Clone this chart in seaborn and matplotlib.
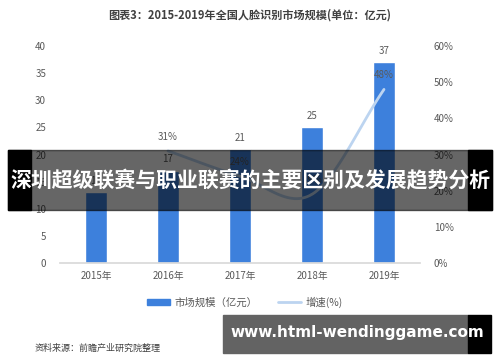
import numpy as np
import pandas as pd
import matplotlib
matplotlib.use('Agg')
import matplotlib.pyplot as plt
import seaborn as sns
from matplotlib.patches import Rectangle
from matplotlib.lines import Line2D
from matplotlib.patches import Patch

# データ
years = ['2015年', '2016年', '2017年', '2018年', '2019年']
market_size = [13, 17, 21, 25, 37]
growth = [None, 31, 24, 19, 48]
growth_labels = ['', '31%', '24%', '19%', '48%']

title = '图表3：2015-2019年全国人脸识别市场规模(单位：亿元)'
source = '资料来源：前瞻产业研究院整理'
banner = '深圳超级联赛与职业联赛的主要区别及发展趋势分析'
url = 'www.html-wendinggame.com'

sns.set_theme(style='white')
plt.rcParams['font.family'] = ['Noto Sans CJK SC', 'DejaVu Sans']

bar_color = '#3D80DC'
line_color = '#BCD4F0'
text_color = '#595959'

fig = plt.figure(figsize=(5, 3.62), dpi=100)
ax = fig.add_axes([0.12, 0.2735, 0.72, 0.5994])

df = pd.DataFrame({'year': years, 'size': market_size})
sns.barplot(data=df, x='year', y='size', color=bar_color, width=0.3,
            saturation=1, ax=ax)
ax.set_ylim(0, 40)
ax.set_xlim(-0.5, 4.5)
ax.set_yticks(range(0, 45, 5))
ax.set_xlabel('')
ax.set_ylabel('')
for s in ['top', 'right', 'left']:
    ax.spines[s].set_visible(False)
ax.spines['bottom'].set_color('#D9D9D9')
ax.tick_params(axis='both', length=0, labelsize=7, colors=text_color)
ax.tick_params(axis='y', pad=10)
ax.tick_params(axis='x', pad=6)
for i, v in enumerate(market_size):
    ax.text(i, v + 1.2, str(v), ha='center', va='bottom', fontsize=7, color=text_color)

# 増速（右軸、平滑曲線）
ax2 = ax.twinx()
ax2.set_ylim(0, 0.6)
ax2.set_yticks(np.arange(0, 0.61, 0.1))
ax2.set_yticklabels([f'{int(round(t * 100))}%' for t in np.arange(0, 0.61, 0.1)])
ax2.tick_params(axis='y', length=0, labelsize=7, colors=text_color, pad=10)
for s in ax2.spines.values():
    s.set_visible(False)
ax2.grid(False)

gx = np.array([i for i, g in enumerate(growth) if g is not None], dtype=float)
gy = np.array([g / 100 for g in growth if g is not None])
# Catmull-Rom で滑らかに
px = np.concatenate([[2 * gx[0] - gx[1]], gx, [2 * gx[-1] - gx[-2]]])
py = np.concatenate([[2 * gy[0] - gy[1]], gy, [2 * gy[-1] - gy[-2]]])
cx, cy = [], []
for k in range(1, len(px) - 2):
    t = np.linspace(0, 1, 30)
    for arr, out in ((px, cx), (py, cy)):
        p0, p1, p2, p3 = arr[k - 1], arr[k], arr[k + 1], arr[k + 2]
        out.extend(0.5 * ((2 * p1) + (-p0 + p2) * t + (2 * p0 - 5 * p1 + 4 * p2 - p3) * t ** 2
                          + (-p0 + 3 * p1 - 3 * p2 + p3) * t ** 3))
ax2.plot(cx, cy, color=line_color, lw=2, solid_capstyle='round')
for i, g in enumerate(growth):
    if g is not None:
        ax2.text(i, g / 100 + 0.025, growth_labels[i], ha='center', va='bottom',
                 fontsize=7, color=text_color)

fig.text(0.5, 0.958, title, ha='center', va='center', fontsize=8,
         fontweight='bold', color='#404040')

handles = [Patch(color=bar_color), Line2D([0], [0], color=line_color, lw=2)]
fig.legend(handles, ['市场规模（亿元）', '增速(%)'], loc='center', ncol=2,
           bbox_to_anchor=(0.49, 0.166), frameon=False, fontsize=7.5,
           labelcolor=text_color, handlelength=2.2, handleheight=0.5,
           columnspacing=2.0, handletextpad=0.4)

fig.text(0.07, 0.038, source, ha='left', va='center', fontsize=6.5, color='#404040')
fig.text(0.985, 0.045, '@前瞻经济学人APP', ha='right', va='center', fontsize=6.5, color='#404040')

# オーバーレイのバナー
H = 362
fig.patches.append(Rectangle((8 / 500, 1 - 210 / H), 484 / 500, 60 / H,
                             transform=fig.transFigure, color='black', alpha=0.6, zorder=10))
fig.patches.append(Rectangle((8 / 500, 1 - 210 / H), 23 / 500, 60 / H,
                             transform=fig.transFigure, color='black', zorder=10))
fig.patches.append(Rectangle((468 / 500, 1 - 210 / H), 24 / 500, 60 / H,
                             transform=fig.transFigure, color='black', zorder=10))
fig.text(0.5, 1 - 181 / H, banner, ha='center', va='center', fontsize=15,
         fontweight='bold', color='white', zorder=11)

fig.patches.append(Rectangle((223 / 500, 1 - 353 / H), 245 / 500, 38 / H,
                             transform=fig.transFigure, color='#636363', zorder=10))
fig.patches.append(Rectangle((468 / 500, 1 - 353 / H), 23 / 500, 38 / H,
                             transform=fig.transFigure, color='black', zorder=10))
fig.text(357 / 500, 1 - 333 / H, url, ha='center', va='center', fontsize=11,
         fontweight='bold', color='white', family='DejaVu Sans', zorder=11)

fig.savefig('out.png', dpi=100)
